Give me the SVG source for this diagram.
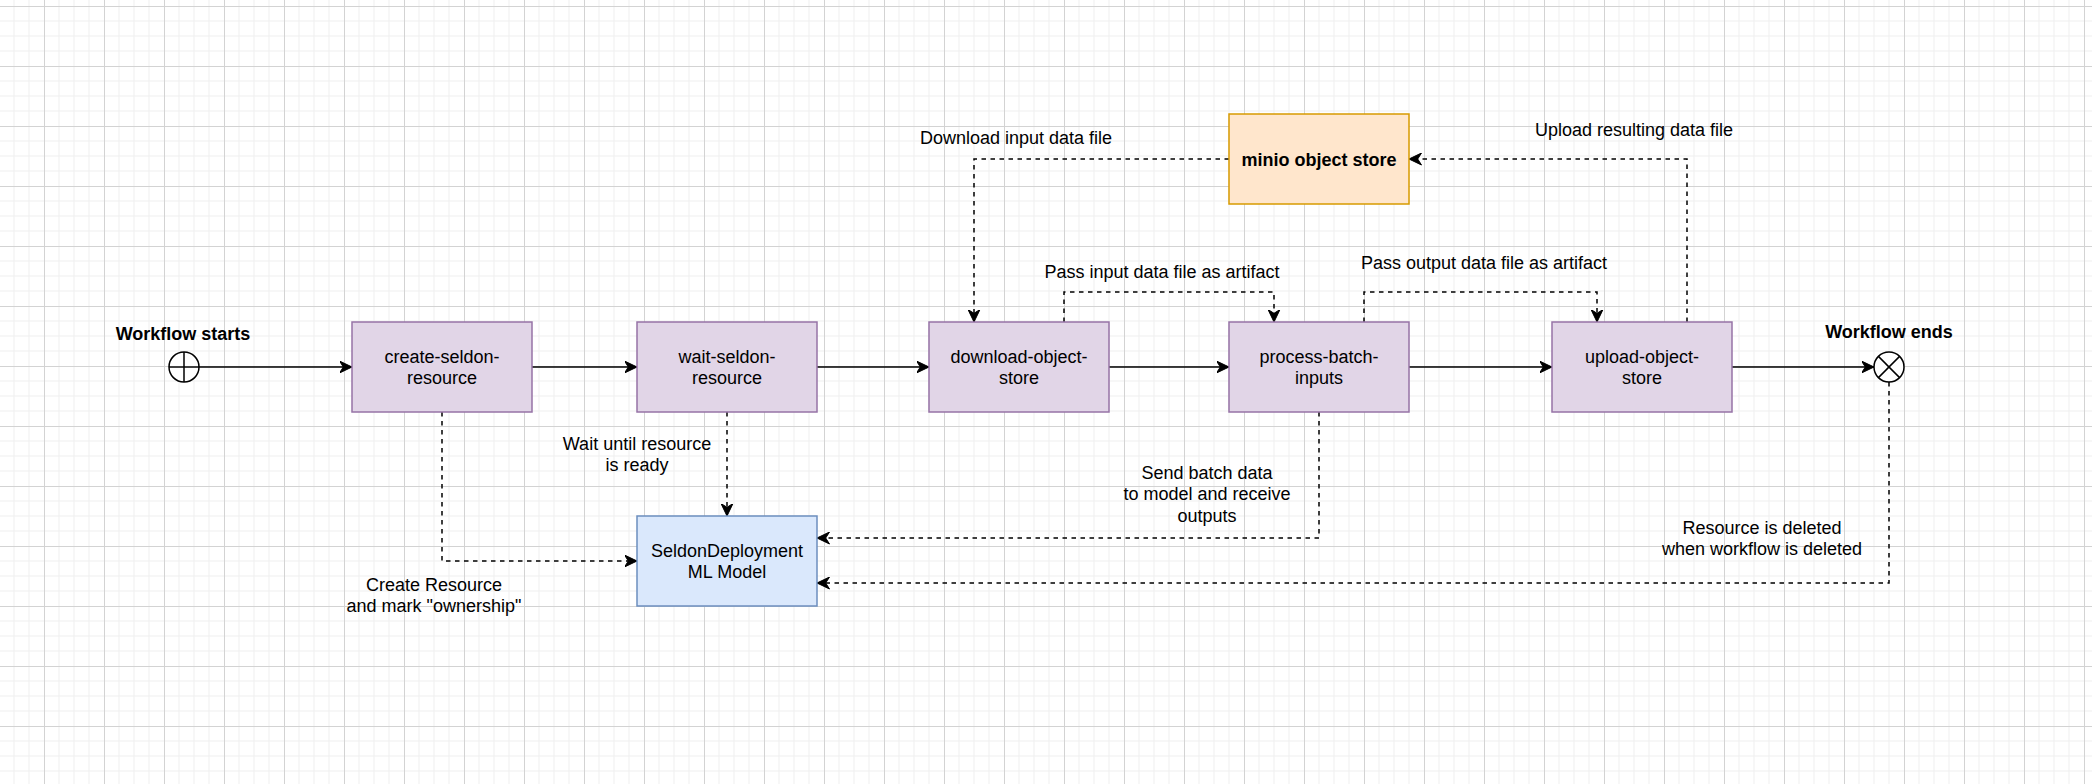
<svg xmlns="http://www.w3.org/2000/svg" width="2092" height="784" viewBox="0 0 2092 784">
<style>
.node rect{stroke-width:1.5}
.proc rect{fill:#e1d5e7;stroke:#9673a6}
.model rect{fill:#dae8fc;stroke:#6c8ebf}
.store rect{fill:#ffe6cc;stroke:#d79b00}
text{font-family:"Liberation Sans",Arial,sans-serif;font-size:18px;fill:#000;text-anchor:middle}
.b{font-weight:bold}
.e{fill:none;stroke:#000;stroke-width:1.5}
.d{stroke-dasharray:4.5 4.5}
.ev circle,.ev line{fill:#fff;stroke:#000;stroke-width:1.5}
</style>
<defs>
<pattern id="grid" patternUnits="userSpaceOnUse" x="44" y="6" width="60" height="60">
<path d="M15 0V60M30 0V60M45 0V60M0 15H60M0 30H60M0 45H60" stroke="#efefef" stroke-width="1" fill="none"/>
<path d="M0.5 0V60M0 0.5H60" stroke="#d3d3d3" stroke-width="1" fill="none"/>
</pattern>
<marker id="arr" markerUnits="userSpaceOnUse" viewBox="0 0 13 13" refX="12.5" refY="6.5" markerWidth="13" markerHeight="13" orient="auto">
<path d="M12.5 6.5L0 0.5L3.8 6.5L0 12.5Z" fill="#000" stroke="#000" stroke-width="1"/>
</marker>
</defs>
<rect width="2092" height="784" fill="#fff"/>
<rect width="2092" height="784" fill="url(#grid)"/>

<g id="connectors">
<path class="e" d="M199 367H352" marker-end="url(#arr)"/>
<path class="e" d="M532 367H637" marker-end="url(#arr)"/>
<path class="e" d="M817 367H929" marker-end="url(#arr)"/>
<path class="e" d="M1109 367H1229" marker-end="url(#arr)"/>
<path class="e" d="M1409 367H1552" marker-end="url(#arr)"/>
<path class="e" d="M1732 367H1874" marker-end="url(#arr)"/>
<path class="e d" d="M442 412V561H637" marker-end="url(#arr)"/>
<path class="e d" d="M727 412V516" marker-end="url(#arr)"/>
<path class="e d" d="M1319 412V538H817" marker-end="url(#arr)"/>
<path class="e d" d="M1889 382V583H817" marker-end="url(#arr)"/>
<path class="e d" d="M1229 159H974V322" marker-end="url(#arr)"/>
<path class="e d" d="M1687 322V159H1409" marker-end="url(#arr)"/>
<path class="e d" d="M1064 322V292H1274V322" marker-end="url(#arr)"/>
<path class="e d" d="M1364 322V292H1597V322" marker-end="url(#arr)"/>
<text x="434" y="590.5">Create Resource</text>
<text x="434" y="612">and mark "ownership"</text>
<text x="637" y="449.5">Wait until resource</text>
<text x="637" y="471">is ready</text>
<text x="1207" y="478.5">Send batch data</text>
<text x="1207" y="500">to model and receive</text>
<text x="1207" y="521.5">outputs</text>
<text x="1762" y="533.5">Resource is deleted</text>
<text x="1762" y="555">when workflow is deleted</text>
<text x="1016" y="144">Download input data file</text>
<text x="1634" y="136">Upload resulting data file</text>
<text x="1162" y="277.5">Pass input data file as artifact</text>
<text x="1484" y="268.5">Pass output data file as artifact</text>
</g>

<g id="start" class="ev">
<circle cx="184" cy="367" r="15"/>
<line x1="169" y1="367" x2="199" y2="367"/>
<line x1="184" y1="352" x2="184" y2="382"/>
<text class="b" x="183" y="339.5">Workflow starts</text>
</g>
<g id="end" class="ev">
<circle cx="1889" cy="367" r="15"/>
<line x1="1878.4" y1="356.4" x2="1899.6" y2="377.6"/>
<line x1="1899.6" y1="356.4" x2="1878.4" y2="377.6"/>
<text class="b" x="1889" y="337.5">Workflow ends</text>
</g>
<g id="create-seldon-resource" class="node proc">
<rect x="352" y="322" width="180" height="90"/>
<text x="442" y="362.5">create-seldon-</text>
<text x="442" y="384">resource</text>
</g>
<g id="wait-seldon-resource" class="node proc">
<rect x="637" y="322" width="180" height="90"/>
<text x="727" y="362.5">wait-seldon-</text>
<text x="727" y="384">resource</text>
</g>
<g id="download-object-store" class="node proc">
<rect x="929" y="322" width="180" height="90"/>
<text x="1019" y="362.5">download-object-</text>
<text x="1019" y="384">store</text>
</g>
<g id="process-batch-inputs" class="node proc">
<rect x="1229" y="322" width="180" height="90"/>
<text x="1319" y="362.5">process-batch-</text>
<text x="1319" y="384">inputs</text>
</g>
<g id="upload-object-store" class="node proc">
<rect x="1552" y="322" width="180" height="90"/>
<text x="1642" y="362.5">upload-object-</text>
<text x="1642" y="384">store</text>
</g>
<g id="seldon-deployment" class="node model">
<rect x="637" y="516" width="180" height="90"/>
<text x="727" y="556.5">SeldonDeployment</text>
<text x="727" y="578">ML Model</text>
</g>
<g id="minio" class="node store">
<rect x="1229" y="114" width="180" height="90"/>
<text class="b" x="1319" y="165.5">minio object store</text>
</g>
</svg>
